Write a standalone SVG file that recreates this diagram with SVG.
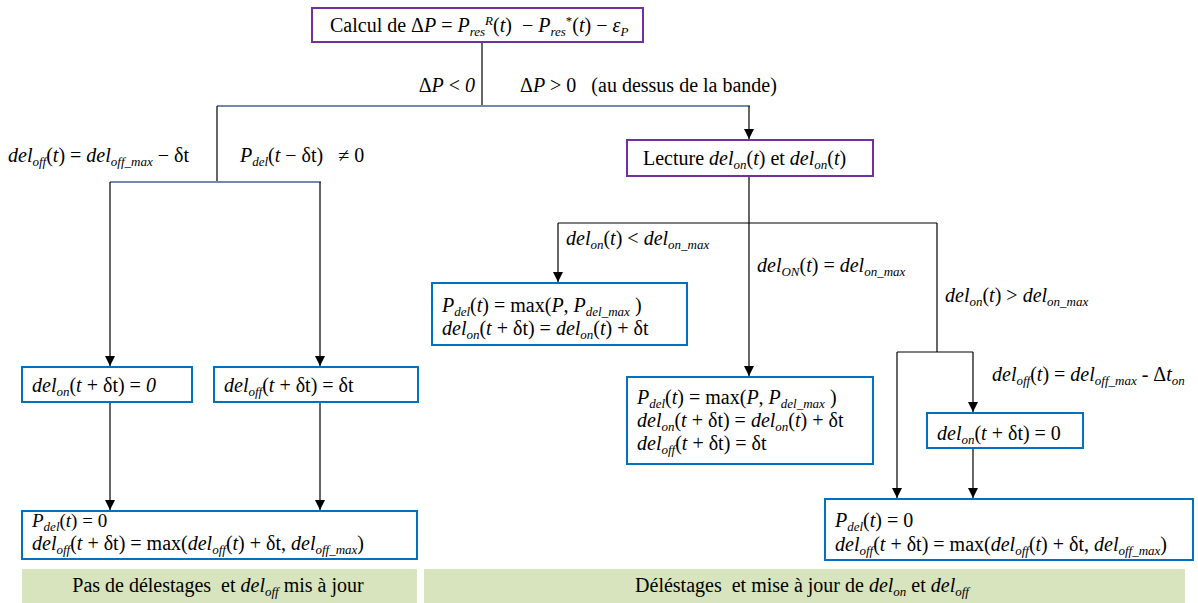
<svg xmlns="http://www.w3.org/2000/svg" width="1198" height="603" viewBox="0 0 1198 603">
<defs>
<style>
text{font-family:"Liberation Serif","Times New Roman","DejaVu Serif",serif;font-size:20px;fill:#000;white-space:pre}
.m{font-size:19px}
.i{font-style:italic}
.s{font-size:13px}
.pb{fill:#fff;stroke:#7030A0;stroke-width:2}
.bb{fill:#fff;stroke:#0070C0;stroke-width:2}
.gb{fill:#D7E4BD;stroke:none}
.c{stroke:#000;stroke-width:1.2;fill:none}
.cg{stroke:#7388AA;stroke-width:1.8;fill:none}
</style>
<marker id="ar" viewBox="0 0 10 10" refX="10" refY="5" markerWidth="10" markerHeight="10" markerUnits="userSpaceOnUse" orient="auto">
<path d="M0,0 L10,5 L0,10 z" fill="#000"/>
</marker>
</defs>

<g id="connectors">
<line class="c" x1="482" y1="42" x2="482" y2="106"/>
<line class="cg" x1="217" y1="106" x2="750" y2="106"/>
<line class="c" x1="749" y1="106" x2="749" y2="139" marker-end="url(#ar)"/>
<line class="c" x1="217" y1="106" x2="217" y2="182"/>
<line class="cg" x1="110" y1="182" x2="321" y2="182"/>
<line class="c" x1="110" y1="182" x2="110" y2="366" marker-end="url(#ar)"/>
<line class="c" x1="320" y1="182" x2="320" y2="366" marker-end="url(#ar)"/>
<line class="c" x1="110" y1="402" x2="110" y2="510" marker-end="url(#ar)"/>
<line class="c" x1="320" y1="402" x2="320" y2="510" marker-end="url(#ar)"/>
<line class="c" x1="749" y1="176" x2="749" y2="376" marker-end="url(#ar)"/>
<line class="c" x1="558" y1="223" x2="937" y2="223"/>
<line class="c" x1="558" y1="223" x2="558" y2="282" marker-end="url(#ar)"/>
<line class="c" x1="937" y1="223" x2="937" y2="352"/>
<line class="c" x1="897" y1="352" x2="973" y2="352"/>
<line class="c" x1="897" y1="352" x2="897" y2="498" marker-end="url(#ar)"/>
<line class="c" x1="973" y1="352" x2="973" y2="412" marker-end="url(#ar)"/>
<line class="c" x1="973" y1="448" x2="973" y2="498" marker-end="url(#ar)"/>
</g>

<g id="labels">
<text x="475" y="92" text-anchor="end">Δ<tspan class="i">P</tspan> &lt; <tspan class="i">0</tspan></text>
<text x="520" y="92">Δ<tspan class="i">P</tspan> &gt; 0   (au dessus de la bande)</text>
<text x="8" y="162"><tspan class="i">del</tspan><tspan class="i s" dy="4">off</tspan><tspan dy="-4">(</tspan><tspan class="i">t</tspan>) = <tspan class="i">del</tspan><tspan class="i s" dy="4">off_max</tspan><tspan dy="-4"> − δt</tspan></text>
<text x="240" y="162"><tspan class="i">P</tspan><tspan class="i s" dy="4">del</tspan><tspan dy="-4">(</tspan><tspan class="i">t</tspan> − δt)   ≠ 0</text>
<text x="566" y="245"><tspan class="i">del</tspan><tspan class="i s" dy="4">on</tspan><tspan dy="-4">(</tspan><tspan class="i">t</tspan>) &lt; <tspan class="i">del</tspan><tspan class="i s" dy="4">on_max</tspan></text>
<text x="757" y="272"><tspan class="i">del</tspan><tspan class="i s" dy="4">ON</tspan><tspan dy="-4">(</tspan><tspan class="i">t</tspan>) = <tspan class="i">del</tspan><tspan class="i s" dy="4">on_max</tspan></text>
<text x="945" y="302"><tspan class="i">del</tspan><tspan class="i s" dy="4">on</tspan><tspan dy="-4">(</tspan><tspan class="i">t</tspan>) &gt; <tspan class="i">del</tspan><tspan class="i s" dy="4">on_max</tspan></text>
<text x="992" y="381"><tspan class="i">del</tspan><tspan class="i s" dy="4">off</tspan><tspan dy="-4">(</tspan><tspan class="i">t</tspan>) = <tspan class="i">del</tspan><tspan class="i s" dy="4">off_max</tspan><tspan dy="-4"> - Δ</tspan><tspan class="i">t</tspan><tspan class="i s" dy="4">on</tspan></text>
</g>

<g id="n-calcul">
<rect class="pb" x="312" y="8" width="331" height="34"/>
<text x="330" y="32">Calcul de Δ<tspan class="i">P</tspan> = <tspan class="i">P</tspan><tspan class="i s" dy="4">res</tspan><tspan class="i s" dy="-11">R</tspan><tspan dy="7">(</tspan><tspan class="i">t</tspan>)  − <tspan class="i">P</tspan><tspan class="i s" dy="4">res</tspan><tspan class="s" dy="-11">*</tspan><tspan dy="7">(</tspan><tspan class="i">t</tspan>) − <tspan class="i">ε</tspan><tspan class="i s" dy="4">P</tspan></text>
</g>

<g id="n-lecture">
<rect class="pb" x="627" y="140" width="246" height="36"/>
<text x="643" y="165">Lecture <tspan class="i">del</tspan><tspan class="i s" dy="4">on</tspan><tspan dy="-4">(</tspan><tspan class="i">t</tspan>) et <tspan class="i">del</tspan><tspan class="i s" dy="4">on</tspan><tspan dy="-4">(</tspan><tspan class="i">t</tspan>)</text>
</g>

<g id="n-left1">
<rect class="bb" x="22" y="367" width="170" height="35"/>
<text x="32" y="392"><tspan class="i">del</tspan><tspan class="i s" dy="4">on</tspan><tspan dy="-4">(</tspan><tspan class="i">t</tspan> + δt) = <tspan class="i">0</tspan></text>
</g>

<g id="n-left2">
<rect class="bb" x="214" y="367" width="204" height="35"/>
<text x="224" y="392"><tspan class="i">del</tspan><tspan class="i s" dy="4">off</tspan><tspan dy="-4">(</tspan><tspan class="i">t</tspan> + δt) = δt</text>
</g>

<g id="n-bottom-left">
<rect class="bb" x="22" y="511" width="395" height="48"/>
<text class="m" x="32" y="527"><tspan class="i">P</tspan><tspan class="i s" dy="4">del</tspan><tspan dy="-4">(</tspan><tspan class="i">t</tspan>) = 0</text>
<text x="32" y="550"><tspan class="i">del</tspan><tspan class="i s" dy="4">off</tspan><tspan dy="-4">(</tspan><tspan class="i">t</tspan> + δt) = max(<tspan class="i">del</tspan><tspan class="i s" dy="4">off</tspan><tspan dy="-4">(</tspan><tspan class="i">t</tspan>) + δt, <tspan class="i">del</tspan><tspan class="i s" dy="4">off_max</tspan><tspan dy="-4">)</tspan></text>
</g>

<g id="n-less">
<rect class="bb" x="432" y="283" width="255" height="62"/>
<text x="442" y="312"><tspan class="i">P</tspan><tspan class="i s" dy="4">del</tspan><tspan dy="-4">(</tspan><tspan class="i">t</tspan>) = max(<tspan class="i">P</tspan>, <tspan class="i">P</tspan><tspan class="i s" dy="4">del_max</tspan><tspan dy="-4"> )</tspan></text>
<text x="442" y="335"><tspan class="i">del</tspan><tspan class="i s" dy="4">on</tspan><tspan dy="-4">(</tspan><tspan class="i">t</tspan> + δt) = <tspan class="i">del</tspan><tspan class="i s" dy="4">on</tspan><tspan dy="-4">(</tspan><tspan class="i">t</tspan>) + δt</text>
</g>

<g id="n-equal">
<rect class="bb" x="627" y="377" width="246" height="87"/>
<text x="637" y="404"><tspan class="i">P</tspan><tspan class="i s" dy="4">del</tspan><tspan dy="-4">(</tspan><tspan class="i">t</tspan>) = max(<tspan class="i">P</tspan>, <tspan class="i">P</tspan><tspan class="i s" dy="4">del_max</tspan><tspan dy="-4"> )</tspan></text>
<text x="637" y="427"><tspan class="i">del</tspan><tspan class="i s" dy="4">on</tspan><tspan dy="-4">(</tspan><tspan class="i">t</tspan> + δt) = <tspan class="i">del</tspan><tspan class="i s" dy="4">on</tspan><tspan dy="-4">(</tspan><tspan class="i">t</tspan>) + δt</text>
<text x="637" y="450"><tspan class="i">del</tspan><tspan class="i s" dy="4">off</tspan><tspan dy="-4">(</tspan><tspan class="i">t</tspan> + δt) = δt</text>
</g>

<g id="n-reset">
<rect class="bb" x="927" y="413" width="156" height="35"/>
<text x="937" y="440"><tspan class="i">del</tspan><tspan class="i s" dy="4">on</tspan><tspan dy="-4">(</tspan><tspan class="i">t</tspan> + δt) = 0</text>
</g>

<g id="n-bottom-right">
<rect class="bb" x="825" y="499" width="368" height="61"/>
<text x="835" y="527"><tspan class="i">P</tspan><tspan class="i s" dy="4">del</tspan><tspan dy="-4">(</tspan><tspan class="i">t</tspan>) = 0</text>
<text x="835" y="551"><tspan class="i">del</tspan><tspan class="i s" dy="4">off</tspan><tspan dy="-4">(</tspan><tspan class="i">t</tspan> + δt) = max(<tspan class="i">del</tspan><tspan class="i s" dy="4">off</tspan><tspan dy="-4">(</tspan><tspan class="i">t</tspan>) + δt, <tspan class="i">del</tspan><tspan class="i s" dy="4">off_max</tspan><tspan dy="-4">)</tspan></text>
</g>

<g id="band-left">
<rect class="gb" x="22" y="569" width="395" height="34"/>
<text x="218" y="592" text-anchor="middle">Pas de délestages  et <tspan class="i">del</tspan><tspan class="i s" dy="4">off</tspan><tspan dy="-4"> mis à jour</tspan></text>
</g>

<g id="band-right">
<rect class="gb" x="424" y="569" width="761" height="34"/>
<text x="802" y="592" text-anchor="middle">Déléstages  et mise à jour de <tspan class="i">del</tspan><tspan class="i s" dy="4">on</tspan><tspan dy="-4"> et </tspan><tspan class="i">del</tspan><tspan class="i s" dy="4">off</tspan></text>
</g>
</svg>
